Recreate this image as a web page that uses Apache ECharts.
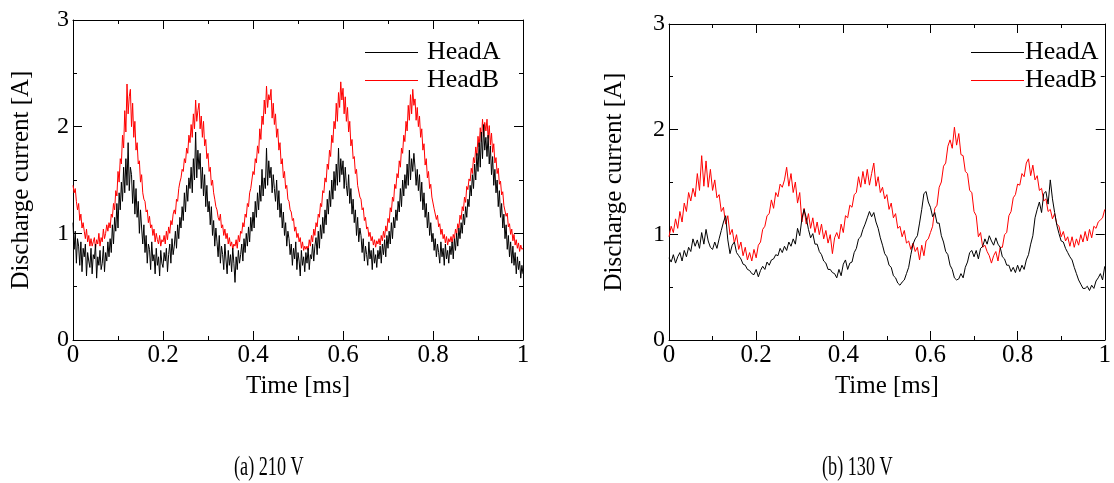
<!DOCTYPE html>
<html>
<head>
<meta charset="utf-8">
<script src="https://cdn.jsdelivr.net/npm/echarts@6/dist/echarts.min.js"></script>
<style>
html,body{margin:0;padding:0;background:#fff;}
#chart{width:1114px;height:483px;}
</style>
</head>
<body>
<div id="chart"></div>
<script>
// ---------- DATA ----------
const xTickLabels = ['0', '0.2', '0.4', '0.6', '0.8', '1'];
const yTickLabels = ['0', '1', '2', '3'];
const seriesNames = ['HeadA', 'HeadB'];
const captions = ['(a) 210 V', '(b) 130 V'];

// (a) 210 V — HeadB, samples every 0.0025 ms from 0 to 1 ms (16 per row = 0.04 ms)
const headB_210 = [
  1.45,1.38,1.42,1.30,1.22,1.28,1.12,1.18,1.05,1.10,1.02,0.95,1.04,0.92,0.98,0.88,
  0.95,0.88,0.92,0.96,0.86,0.94,0.90,1.00,0.88,0.96,0.92,1.04,0.95,1.00,1.08,1.02,
  1.10,1.05,1.18,1.15,1.28,1.22,1.40,1.35,1.58,1.48,1.70,1.65,1.92,1.80,2.15,1.95,
  2.40,2.12,2.28,2.35,2.00,2.22,1.90,2.05,1.78,1.85,1.65,1.68,1.48,1.55,1.38,1.32,
  1.30,1.20,1.22,1.10,1.16,1.05,1.08,0.98,1.04,0.92,1.00,0.94,0.90,0.98,0.88,0.94,
  0.92,0.98,0.90,1.02,0.94,1.06,1.00,1.12,1.08,1.18,1.22,1.18,1.32,1.30,1.42,1.48,
  1.52,1.60,1.58,1.70,1.66,1.80,1.75,1.92,1.85,2.02,1.90,2.12,1.98,2.25,2.05,2.15,
  2.22,1.98,2.10,1.90,2.05,1.82,1.88,1.70,1.75,1.58,1.62,1.45,1.50,1.38,1.32,1.25,
  1.22,1.15,1.12,1.18,1.05,1.08,0.98,1.04,0.95,1.00,0.90,0.96,0.88,0.92,0.85,0.90,
  0.88,0.94,0.86,0.98,0.92,1.02,1.00,1.10,1.06,1.18,1.15,1.28,1.25,1.38,1.42,1.50,
  1.58,1.55,1.70,1.66,1.82,1.75,1.98,1.88,2.10,2.02,2.25,2.12,2.38,2.18,2.30,2.25,
  2.35,2.08,2.22,2.02,2.12,1.90,1.98,1.78,1.85,1.65,1.70,1.52,1.58,1.42,1.45,1.32,
  1.30,1.22,1.20,1.12,1.14,1.02,1.06,0.96,1.00,0.92,0.96,0.86,0.92,0.84,0.88,0.85,
  0.88,0.84,0.94,0.88,0.98,0.92,1.04,0.98,1.10,1.06,1.18,1.15,1.28,1.25,1.40,1.38,
  1.52,1.48,1.65,1.60,1.78,1.72,1.92,1.85,2.05,1.98,2.22,2.05,2.32,2.18,2.42,2.25,
  2.36,2.12,2.28,2.05,2.18,1.95,2.05,1.82,1.88,1.70,1.72,1.56,1.60,1.45,1.46,1.34,
  1.32,1.22,1.24,1.12,1.15,1.04,1.06,0.97,1.01,0.93,0.97,0.89,0.94,0.87,0.93,0.90,
  0.95,0.89,0.98,0.93,1.02,0.96,1.07,1.02,1.14,1.10,1.24,1.20,1.34,1.30,1.46,1.42,
  1.56,1.52,1.68,1.62,1.80,1.75,1.92,1.86,2.05,1.96,2.20,2.06,2.30,2.12,2.35,2.20,
  2.26,2.06,2.18,2.00,2.10,1.90,1.98,1.78,1.84,1.64,1.70,1.52,1.58,1.42,1.46,1.34,
  1.33,1.23,1.24,1.13,1.17,1.06,1.09,0.99,1.04,0.95,0.99,0.91,0.97,0.89,0.95,0.92,
  0.97,0.91,0.99,0.95,1.04,0.99,1.09,1.05,1.17,1.13,1.25,1.21,1.34,1.29,1.44,1.41,
  1.51,1.49,1.61,1.56,1.71,1.66,1.81,1.73,1.91,1.81,1.99,1.86,2.07,1.91,2.04,1.96,
  2.07,1.89,2.01,1.83,1.94,1.76,1.84,1.66,1.71,1.56,1.61,1.46,1.49,1.36,1.39,1.26,
  1.27,1.16,1.19,1.06,1.09,0.99,1.04,0.93,0.99,0.89,0.94,0.86,0.91,0.83,0.89,0.85,
  0.86
];

// (a) 210 V — HeadA
const headA_210 = [
  1.10,0.85,1.02,0.72,0.95,0.88,0.70,0.92,0.64,0.86,0.78,0.90,0.60,0.82,0.74,0.68,
  0.86,0.62,0.80,0.76,0.90,0.58,0.78,0.70,0.84,0.66,0.72,0.88,0.64,0.82,0.74,0.92,
  0.78,0.95,0.82,1.08,0.90,1.15,1.02,1.28,1.05,1.38,1.22,1.48,1.30,1.62,1.38,1.70,
  1.45,1.85,1.40,1.62,1.55,1.28,1.50,1.18,1.42,1.15,1.30,1.00,1.22,1.05,0.90,1.08,
  0.82,0.98,0.72,0.90,0.85,0.66,0.92,0.74,0.80,0.62,0.86,0.70,0.78,0.60,0.84,0.72,
  0.68,0.82,0.74,0.86,0.64,0.80,0.90,0.72,0.95,0.80,0.88,1.02,0.86,1.08,0.95,1.15,
  1.05,1.25,1.12,1.38,1.20,1.45,1.30,1.52,1.42,1.62,1.38,1.70,1.50,1.95,1.52,1.78,
  1.60,1.75,1.42,1.62,1.35,1.55,1.25,1.45,1.20,1.30,1.08,1.25,0.98,1.12,0.88,1.05,
  0.92,0.78,0.98,0.72,0.88,0.80,0.66,0.90,0.75,0.62,0.84,0.70,0.80,0.64,0.86,0.72,
  0.54,0.78,0.66,0.84,0.72,0.80,0.90,0.74,0.95,0.82,1.00,0.88,1.06,0.92,1.15,1.02,
  1.20,1.05,1.30,1.15,1.38,1.22,1.45,1.30,1.60,1.35,1.52,1.42,1.80,1.45,1.68,1.52,
  1.62,1.38,1.55,1.42,1.30,1.50,1.22,1.40,1.15,1.28,1.05,1.20,0.98,1.10,0.88,1.02,
  0.95,0.80,0.90,0.70,0.86,0.76,0.92,0.66,0.82,0.74,0.60,0.84,0.70,0.78,0.64,0.82,
  0.72,0.86,0.66,0.80,0.76,0.90,0.74,0.88,0.96,0.80,1.02,0.86,1.08,0.95,1.15,1.00,
  1.22,1.08,1.32,1.18,1.40,1.25,1.50,1.32,1.58,1.40,1.65,1.45,1.80,1.48,1.70,1.55,
  1.68,1.42,1.62,1.45,1.35,1.55,1.28,1.42,1.18,1.32,1.10,1.22,0.98,1.15,0.92,1.05,
  0.98,0.82,0.95,0.74,0.88,0.80,0.70,0.92,0.76,0.84,0.66,0.86,0.72,0.80,0.68,0.84,
  0.76,0.88,0.72,0.90,0.80,0.94,0.78,0.98,0.86,1.02,0.90,1.10,0.95,1.15,1.05,1.22,
  1.12,1.30,1.20,1.42,1.25,1.50,1.35,1.55,1.42,1.65,1.45,1.78,1.50,1.70,1.58,1.75,
  1.62,1.45,1.60,1.40,1.55,1.30,1.48,1.22,1.38,1.15,1.28,1.05,1.20,0.98,1.10,0.92,
  1.00,0.84,0.95,0.78,0.90,0.82,0.72,0.92,0.78,0.86,0.70,0.90,0.76,0.84,0.72,0.88,
  0.80,0.92,0.76,0.95,0.84,1.00,0.88,1.05,0.95,1.10,1.00,1.18,1.08,1.25,1.15,1.32,
  1.25,1.45,1.35,1.55,1.42,1.65,1.50,1.75,1.58,1.85,1.62,1.95,1.70,2.02,1.78,1.90,
  1.72,1.92,1.65,1.82,1.55,1.72,1.45,1.60,1.38,1.50,1.25,1.40,1.15,1.28,1.05,1.18,
  0.95,1.08,0.85,0.98,0.78,0.92,0.72,0.88,0.70,0.82,0.62,0.78,0.66,0.74,0.58,0.70,
  0.62
];

// (b) 130 V — HeadB, samples every 0.005 ms (10 per row = 0.05 ms)
const headB_130 = [
  0.98,1.08,1.02,1.15,1.06,1.22,1.12,1.30,1.22,1.40,
  1.32,1.44,1.36,1.58,1.42,1.75,1.46,1.70,1.45,1.62,
  1.42,1.52,1.35,1.38,1.22,1.26,1.10,1.18,1.00,1.05,
  0.92,1.00,0.86,0.93,0.80,0.88,0.76,0.83,0.75,0.86,
  0.78,0.90,0.93,1.05,1.08,1.18,1.20,1.33,1.25,1.40,
  1.36,1.48,1.45,1.52,1.64,1.46,1.58,1.40,1.50,1.30,
  1.40,1.12,1.25,1.10,1.20,1.06,1.16,1.02,1.12,1.00,
  1.10,0.96,1.04,0.92,1.00,0.82,0.97,1.02,0.96,1.10,
  1.02,1.18,1.16,1.28,1.26,1.38,1.40,1.55,1.45,1.60,
  1.48,1.62,1.47,1.58,1.68,1.46,1.55,1.40,1.45,1.34,
  1.38,1.24,1.30,1.16,1.20,1.06,1.08,0.98,1.04,0.92,
  0.94,0.86,0.92,0.84,0.88,0.76,0.90,0.80,0.94,0.96,
  1.02,1.08,1.25,1.28,1.45,1.50,1.65,1.68,1.84,1.90,
  1.82,2.02,1.85,1.96,1.76,1.75,1.60,1.58,1.42,1.40,
  1.22,1.18,0.98,1.02,0.88,0.90,0.84,0.80,0.73,0.80,
  0.84,0.75,0.88,0.88,1.00,1.02,1.18,1.22,1.35,1.38,
  1.48,1.47,1.58,1.55,1.68,1.72,1.56,1.66,1.52,1.56,
  1.42,1.44,1.32,1.34,1.22,1.24,1.15,1.20,1.10,1.08,
  0.98,1.03,0.94,0.98,0.89,0.98,0.88,0.96,0.90,1.00,
  0.93,1.03,0.94,1.05,0.97,1.08,1.06,1.12,1.14,1.16,
  1.24
];

// (b) 130 V — HeadA
const headA_130 = [
  0.78,0.74,0.81,0.73,0.79,0.83,0.75,0.85,0.79,0.88,
  0.84,0.96,0.89,0.95,0.87,1.02,0.91,1.05,0.94,0.88,
  0.86,0.93,0.87,0.96,1.04,1.12,1.18,0.95,0.82,0.90,
  0.93,0.83,0.80,0.77,0.72,0.71,0.67,0.66,0.63,0.62,
  0.67,0.60,0.66,0.70,0.67,0.74,0.71,0.76,0.77,0.81,
  0.80,0.87,0.83,0.89,0.85,0.93,0.89,0.96,0.91,1.06,
  0.99,1.15,1.24,1.16,1.05,0.97,1.01,0.91,0.91,0.84,
  0.81,0.75,0.73,0.67,0.67,0.64,0.63,0.59,0.67,0.61,
  0.72,0.76,0.67,0.73,0.74,0.83,0.87,0.96,0.98,1.05,
  1.10,1.16,1.22,1.17,1.21,1.12,1.06,0.97,0.90,0.82,
  0.79,0.71,0.69,0.61,0.59,0.54,0.52,0.55,0.57,0.63,
  0.69,0.81,0.91,0.96,0.99,1.11,1.24,1.39,1.41,1.31,
  1.26,1.17,1.21,1.11,1.11,0.99,0.93,0.84,0.81,0.71,
  0.67,0.59,0.57,0.58,0.63,0.59,0.69,0.74,0.83,0.85,
  0.79,0.85,0.77,0.87,0.89,0.96,0.91,0.99,0.94,0.90,
  0.97,0.91,0.88,0.79,0.77,0.71,0.71,0.65,0.69,0.64,
  0.71,0.65,0.71,0.67,0.76,0.81,0.91,0.99,1.16,1.24,
  1.31,1.21,1.39,1.41,1.29,1.52,1.34,1.21,1.09,1.01,
  0.94,0.93,0.87,0.83,0.79,0.76,0.69,0.63,0.57,0.53,
  0.49,0.49,0.51,0.47,0.52,0.49,0.56,0.59,0.63,0.57,
  0.70
];

// ---------- CHART ----------
const FONT = '"Liberation Serif", "Times New Roman", serif';
function toPairs(arr) {
  const n = arr.length;
  return arr.map((v, i) => [i / (n - 1), v]);
}

function xAx(grid, pos, withLabel) {
  return {
    gridIndex: grid, type: 'value', min: 0, max: 1, interval: 0.2, position: pos,
    axisLine: { onZero: false, lineStyle: { color: '#000', width: 1 } },
    axisTick: { inside: true, length: 9, lineStyle: { color: '#000', width: 1 } },
    minorTick: { show: true, splitNumber: 2, length: 4, lineStyle: { color: '#000', width: 1 } },
    splitLine: { show: false },
    axisLabel: withLabel ? {
      show: true, color: '#000', fontFamily: FONT, fontSize: 25, margin: 3,
      formatter: v => xTickLabels[Math.round(v / 0.2)]
    } : { show: false },
    name: withLabel ? 'Time [ms]' : '',
    nameLocation: 'middle', nameGap: 34,
    nameTextStyle: { color: '#000', fontFamily: FONT, fontSize: 25 }
  };
}
function yAx(grid, pos, withLabel, gap) {
  return {
    gridIndex: grid, type: 'value', min: 0, max: 3, interval: 1, position: pos,
    axisLine: { onZero: false, lineStyle: { color: '#000', width: 1 } },
    axisTick: { inside: true, length: 9, lineStyle: { color: '#000', width: 1 } },
    minorTick: { show: true, splitNumber: 2, length: 4, lineStyle: { color: '#000', width: 1 } },
    splitLine: { show: false },
    axisLabel: withLabel ? {
      show: true, color: '#000', fontFamily: FONT, fontSize: 24, margin: 4,
      formatter: v => yTickLabels[Math.round(v)]
    } : { show: false },
    name: withLabel ? 'Discharge current [A]' : '',
    nameLocation: 'middle', nameGap: gap,
    nameTextStyle: { color: '#000', fontFamily: FONT, fontSize: 25 }
  };
}
function ser(name, data, xi, yi, color) {
  return {
    name: name, type: 'line', data: toPairs(data), xAxisIndex: xi, yAxisIndex: yi,
    symbol: 'none', showSymbol: false, smooth: false,
    lineStyle: { color: color, width: 1 }, itemStyle: { color: color },
    animation: false
  };
}
function legendAt(left, top, gapText) {
  return {
    left: left, top: top, padding: 0, orient: 'vertical', icon: 'rect',
    itemWidth: 53, itemHeight: 1, itemGap: 1,
    selectedMode: false, data: seriesNames,
    textStyle: { color: '#000', fontFamily: FONT, fontSize: 26, lineHeight: 27, padding: [0, 0, 0, gapText] }
  };
}

const chart = echarts.init(document.getElementById('chart'), null, { renderer: 'canvas' });
chart.setOption({
  backgroundColor: '#fff',
  animation: false,
  grid: [
    { left: 73, top: 20, width: 450, height: 320 },
    { left: 669, top: 24, width: 444, height: 316 }
  ],
  xAxis: [xAx(0, 'bottom', true), xAx(0, 'top', false), xAx(1, 'bottom', true), xAx(1, 'top', false)],
  yAxis: [yAx(0, 'left', true, 39), yAx(0, 'right', false, 0), yAx(1, 'left', true, 42), yAx(1, 'right', false, 0)],
  legend: [legendAt(365, 39, 4), legendAt(971, 39, -4)],
  series: [
    ser(seriesNames[1], headB_210, 0, 0, '#ff0000'),
    ser(seriesNames[0], headA_210, 0, 0, '#000000'),
    ser(seriesNames[1], headB_130, 2, 2, '#ff0000'),
    ser(seriesNames[0], headA_130, 2, 2, '#000000')
  ],
  graphic: [
    { type: 'text', x: 234, y: 468, scaleX: 0.65, style: { text: captions[0], font: '28px ' + FONT, fill: '#000', textVerticalAlign: 'middle', verticalAlign: 'middle' } },
    { type: 'text', x: 822, y: 468, scaleX: 0.65, style: { text: captions[1], font: '28px ' + FONT, fill: '#000', textVerticalAlign: 'middle', verticalAlign: 'middle' } }
  ]
});
</script>
</body>
</html>
